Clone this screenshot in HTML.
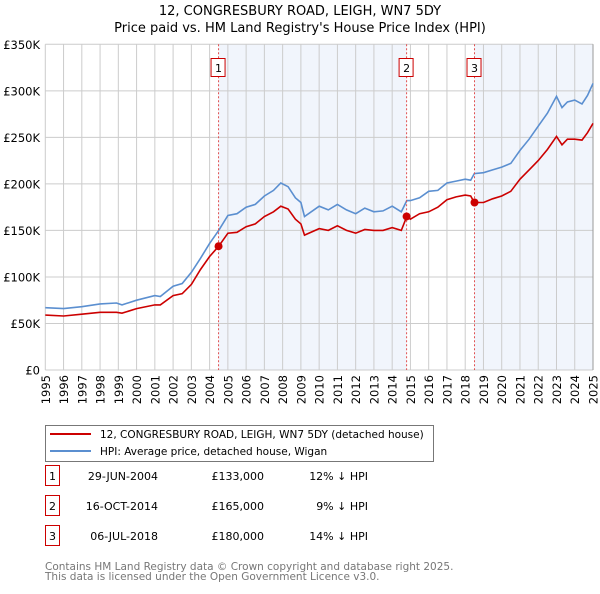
<!DOCTYPE html>
<html><head><meta charset="utf-8"><style>
body{margin:0;background:#fff;font-family:"DejaVu Sans","Liberation Sans",sans-serif;}
svg text{font-family:"DejaVu Sans","Liberation Sans",sans-serif;}
</style></head><body>
<svg width="600" height="590" viewBox="0 0 600 590" xmlns="http://www.w3.org/2000/svg">
<text x="300" y="15" text-anchor="middle" font-size="13">12, CONGRESBURY ROAD, LEIGH, WN7 5DY</text>
<text x="300" y="32" text-anchor="middle" font-size="13">Price paid vs. HM Land Registry's House Price Index (HPI)</text>
<g id="plot"></g>
<g>
<rect x="45.5" y="425.5" width="388" height="36" fill="#fff" stroke="#777"/>
<line x1="50" y1="434" x2="91" y2="434" stroke="#cc0000" stroke-width="2"/>
<text x="100" y="438" font-size="10.5">12, CONGRESBURY ROAD, LEIGH, WN7 5DY (detached house)</text>
<line x1="50" y1="451" x2="91" y2="451" stroke="#5b8fd0" stroke-width="2"/>
<text x="100" y="455" font-size="10.5">HPI: Average price, detached house, Wigan</text>
</g>
<g id="table" font-size="11"></g>
<text x="45" y="570" font-size="10.5" fill="#777">Contains HM Land Registry data © Crown copyright and database right 2025.</text>
<text x="45" y="580" font-size="10.5" fill="#777">This data is licensed under the Open Government Licence v3.0.</text>
</svg>
<script>
const yTicks=[0,50000,100000,150000,200000,250000,300000,350000];
const yTickLabels=["£0","£50K","£100K","£150K","£200K","£250K","£300K","£350K"];
const xYears=[1995,1996,1997,1998,1999,2000,2001,2002,2003,2004,2005,2006,2007,2008,2009,2010,2011,2012,2013,2014,2015,2016,2017,2018,2019,2020,2021,2022,2023,2024,2025];
const hpiT=[1995,1996,1997,1998,1998.9,1999.2,2000,2001,2001.3,2002,2002.5,2003,2003.5,2004,2004.5,2005,2005.5,2006,2006.5,2007,2007.5,2007.9,2008.3,2008.7,2009,2009.2,2010,2010.5,2011,2011.5,2012,2012.5,2013,2013.5,2014,2014.5,2014.8,2015,2015.5,2016,2016.5,2017,2017.5,2018,2018.3,2018.5,2019,2019.5,2020,2020.5,2021,2021.5,2022,2022.5,2023,2023.3,2023.6,2024,2024.4,2024.7,2025];
const hpiV=[67,66,68,71,72,70,75,80,79,90,93,105,120,136,150,166,168,175,178,187,193,201,197,185,180,165,176,172,178,172,168,174,170,171,176,170,182,182,185,192,193,201,203,205,204,211,212,215,218,222,236,248,262,276,294,282,288,290,286,295,308];
const ppT=hpiT;
const ppV=[59,58,60,62,62,61,66,70,70,80,82,92,108,122,133,147,148,154,157,165,170,176,173,162,157,145,152,150,155,150,147,151,150,150,153,150,165,162,168,170,175,183,186,188,187,180,180,184,187,192,205,215,225,237,251,242,248,248,247,255,265];
const saleT=[2004.49,2014.79,2018.51];
const saleV=[133000,165000,180000];
const saleLabels=["1","2","3"];
const saleDates=["29-JUN-2004","16-OCT-2014","06-JUL-2018"];
const salePrices=["£133,000","£165,000","£180,000"];
const saleDiffs=["12% ↓ HPI","9% ↓ HPI","14% ↓ HPI"];
const X0=45.3,X1=593,Y0=370,Y1=44.3;
const xs=t=>X0+(t-1995)/30*(X1-X0);
const ys=v=>Y0-v/350000*(Y0-Y1);
const NS="http://www.w3.org/2000/svg";
const plot=document.getElementById('plot');
function mk(tag,attrs,parent){const e=document.createElementNS(NS,tag);for(const k in attrs)e.setAttribute(k,attrs[k]);(parent||plot).appendChild(e);return e;}
mk('rect',{x:xs(saleT[0]),y:Y1,width:xs(saleT[1])-xs(saleT[0]),height:Y0-Y1,fill:'#eef2fb',opacity:0.8});
mk('rect',{x:xs(saleT[2]),y:Y1,width:X1-xs(saleT[2]),height:Y0-Y1,fill:'#eef2fb',opacity:0.8});
xYears.forEach(y=>{const l=mk('line',{x1:xs(y),x2:xs(y),y1:Y1,y2:Y0,stroke:'#ccc'});


const t=mk('text',{transform:`translate(${xs(y)+4.5},${Y0+5}) rotate(-90)`,'text-anchor':'end','font-size':11.5});t.textContent=y;

});
yTicks.forEach((v,i)=>{const l=mk('line',{x1:X0,x2:X1,y1:ys(v),y2:ys(v),stroke:'#ccc'});


const t=mk('text',{x:40,y:ys(v)+4.5,'text-anchor':'end','font-size':11.5});t.textContent=yTickLabels[i];

});
mk('line',{x1:X1,x2:X1,y1:Y1,y2:Y0,stroke:'#999'});
function path(T,V){return T.map((t,i)=>(i?'L':'M')+xs(t).toFixed(1)+','+ys(V[i]*1000).toFixed(1)).join('');}
const hp=mk('path',{d:path(hpiT,hpiV),fill:'none',stroke:'#5b8fd0','stroke-width':1.6});


const pp=mk('path',{d:path(ppT,ppV),fill:'none',stroke:'#cc0000','stroke-width':1.6});


saleT.forEach((t,i)=>{const x=xs(t);
const l=mk('line',{x1:x,x2:x,y1:Y1,y2:Y0,stroke:'#e05050','stroke-dasharray':'2,2'});


const c=mk('circle',{cx:x,cy:ys(saleV[i]),r:4,fill:'#cc0000'});


const b=mk('rect',{x:x-7.5,y:58.5,width:14,height:18,fill:'#fff',stroke:'#cc0000'});


const tx=mk('text',{x:x,y:72,'text-anchor':'middle','font-size':11});tx.textContent=saleLabels[i];

});
const tbl=document.getElementById('table');
saleT.forEach((t,i)=>{const y=483+i*30;
const b=mk('rect',{x:45.5,y:y-17.5,width:14,height:20,fill:'#fff',stroke:'#cc0000'},tbl);


const n=mk('text',{x:52.5,y:y-3,'text-anchor':'middle'},tbl);n.textContent=saleLabels[i];


const d=mk('text',{x:158,y:y-3,'text-anchor':'end'},tbl);d.textContent=saleDates[i];


const p=mk('text',{x:264,y:y-3,'text-anchor':'end'},tbl);p.textContent=salePrices[i];


const h=mk('text',{x:368,y:y-3,'text-anchor':'end'},tbl);h.textContent=saleDiffs[i];

});
</script>
</body></html>
